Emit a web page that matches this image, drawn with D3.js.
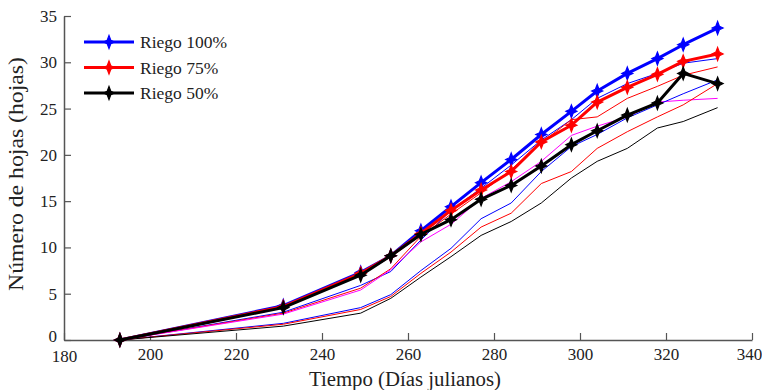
<!DOCTYPE html>
<html><head><meta charset="utf-8">
<script src="https://cdn.jsdelivr.net/npm/d3@7"></script>
<style>body{margin:0;background:#fff}svg{display:block}text{font-family:"Liberation Serif","Times New Roman",serif;fill:#222}</style>
</head><body><svg id="c" width="762" height="390"></svg>
<script>
const days = [193, 231, 249, 256, 263, 270, 277, 284, 291, 298, 304, 311, 318, 324, 332];
const riego100 = [0, 3.7, 7.3, 9.1, 11.8, 14.4, 17.0, 19.5, 22.2, 24.7, 26.9, 28.8, 30.4, 31.9, 33.7];
const riego75  = [0, 3.6, 7.2, 9.1, 11.5, 14.0, 16.2, 18.2, 21.4, 23.2, 25.7, 27.3, 28.7, 30.1, 30.9];
const riego50  = [0, 3.5, 7.0, 9.1, 11.4, 13.0, 15.2, 16.7, 18.8, 21.1, 22.6, 24.3, 25.6, 28.8, 27.7];
const thinBlueA  = [0, 3.0, 5.9, 7.4, 10.8, 14.0, 16.4, 18.9, 21.6, 23.8, 26.1, 27.7, 28.8, 29.9, 30.4];
const thinRedA   = [0, 2.9, 5.6, 7.7, 11.2, 13.6, 15.9, 18.4, 21.3, 23.8, 24.1, 26.1, 27.4, 28.6, 29.5];
const thinMagenta= [0, 2.8, 5.4, 7.6, 10.6, 12.5, 15.3, 17.1, 19.3, 22.1, 23.1, 24.1, 25.7, 25.9, 26.1];
const thinBlueB  = [0, 1.8, 3.5, 4.9, 7.5, 9.9, 13.1, 14.8, 18.2, 20.9, 22.2, 24.0, 25.4, 26.6, 28.1];
const thinRedB   = [0, 1.7, 3.3, 4.7, 7.2, 9.5, 12.2, 13.7, 16.9, 18.2, 20.7, 22.5, 24.1, 25.4, 27.7];
const thinBlack  = [0, 1.5, 2.9, 4.5, 6.8, 9.0, 11.3, 12.8, 14.8, 17.5, 19.3, 20.7, 22.9, 23.6, 25.1];
const xTicks = [180, 200, 220, 240, 260, 280, 300, 320, 340];
const yTicks = [0, 5, 10, 15, 20, 25, 30, 35];
const legendLabels = ["Riego 100%", "Riego 75%", "Riego 50%"];

const svg = d3.select("#c");
const x = d3.scaleLinear().domain([180, 340]).range([64, 752]);
const y = d3.scaleLinear().domain([0, 35]).range([340, 16]);
const axisCol = "#555";

// axes
const gx = svg.append("g").attr("transform", "translate(0,340)")
  .call(d3.axisBottom(x).tickValues(xTicks).tickSizeInner(-7).tickSizeOuter(0).tickPadding(8));
const gy = svg.append("g").attr("transform", "translate(64,0)")
  .call(d3.axisLeft(y).tickValues(yTicks).tickSizeInner(-7).tickSizeOuter(0).tickPadding(7));
[gx, gy].forEach(g => {
  g.select(".domain").attr("stroke", axisCol).attr("stroke-width", 1.5);
  g.selectAll(".tick line").attr("stroke", axisCol).attr("stroke-width", 1.2);
  g.selectAll(".tick text").style("font-family", '"Liberation Serif", serif').style("font-size", "17px").attr("fill", "#222");
});
// keep the last x label inside the window
gx.selectAll(".tick text").filter(d => d === 340).attr("dx", "-3");
// lift the y "0" label a little so it clears the "180" label
gy.selectAll(".tick text").filter(d => d === 0).attr("y", -4);
gx.selectAll(".tick text").filter(d => d === 180).attr("y", 10);

svg.append("text").attr("x", 405).attr("y", 386).attr("text-anchor", "middle")
  .attr("textLength", 192).attr("lengthAdjust", "spacingAndGlyphs")
  .style("font-size", "20px").text("Tiempo (Días julianos)");
svg.append("text").attr("transform", "translate(23,174) rotate(-90)").attr("text-anchor", "middle")
  .attr("textLength", 234).attr("lengthAdjust", "spacingAndGlyphs")
  .style("font-size", "22px").text("Número de hojas (hojas)");

const line = d3.line().x((d, i) => x(days[i])).y(d => y(d));

const thin = [
  [thinBlueA, "#0000ff"], [thinRedA, "#ff0000"], [thinMagenta, "#ff00ff"],
  [thinBlueB, "#0000ff"], [thinRedB, "#ff0000"], [thinBlack, "#000000"]
];
thin.forEach(([vals, col]) => {
  svg.append("path").datum(vals).attr("d", line).attr("fill", "none")
    .attr("stroke", col).attr("stroke-width", 1);
});

function marker(g, cx, cy, col) {
  g.append("path").attr("transform", `translate(${cx},${cy})`)
    .attr("d", "M0,-6.5 L1.8,-1.8 L5.5,0 L1.8,1.8 L0,6.5 L-1.8,1.8 L-5.5,0 L-1.8,-1.8 Z")
    .attr("fill", col).attr("stroke", col).attr("stroke-width", 1.2);
}

const thick = [[riego100, "#0000ff"], [riego75, "#ff0000"], [riego50, "#000000"]];
thick.forEach(([vals, col]) => {
  const g = svg.append("g");
  g.append("path").datum(vals).attr("d", line).attr("fill", "none")
    .attr("stroke", col).attr("stroke-width", 3).attr("stroke-linejoin", "round");
  vals.forEach((v, i) => marker(g, x(days[i]), y(v), col));
});

// legend
legendLabels.forEach((lab, i) => {
  const ly = 42 + i * 25.5, col = thick[i][1];
  const g = svg.append("g");
  g.append("line").attr("x1", 84).attr("x2", 134).attr("y1", ly).attr("y2", ly)
    .attr("stroke", col).attr("stroke-width", 3);
  marker(g, 109, ly, col);
  g.append("text").attr("x", 140).attr("y", ly + 6).style("font-size", "17.5px").text(lab);
});
</script></body></html>
